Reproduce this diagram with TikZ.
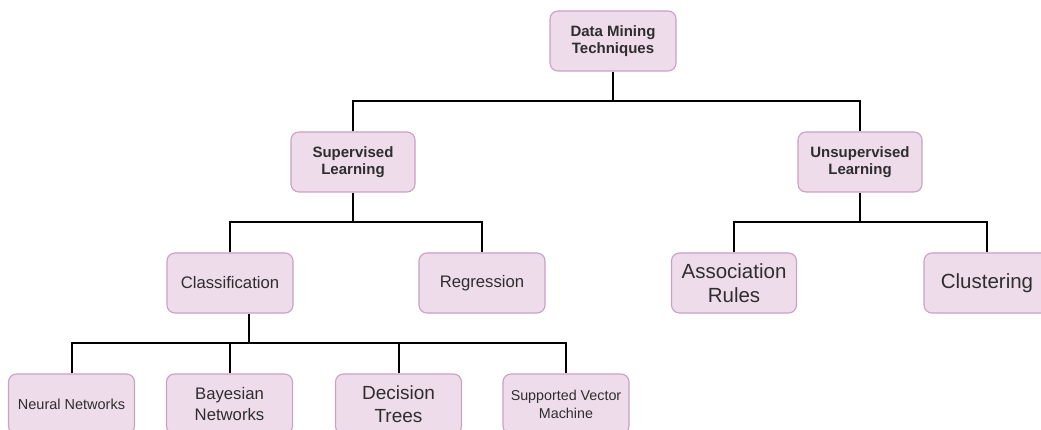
\documentclass[tikz,border=0pt]{standalone}
\usepackage{fontspec}
\setmainfont{Liberation Sans}
\definecolor{boxfill}{HTML}{EFDCEB}
\definecolor{boxline}{HTML}{C9A0C6}
\definecolor{txt}{HTML}{2E2E2E}
\tikzset{
  box/.style={draw=boxline, fill=boxfill, line width=1.1pt, rounded corners=8pt,
    minimum width=126pt, minimum height=60pt, inner sep=0pt, align=center, text=txt},
  hb/.style={font=\fontsize{15}{17.5}\selectfont\bfseries},
  big/.style={font=\fontsize{20.5}{24}\selectfont},
  mid/.style={font=\fontsize{16.7}{21}\selectfont},
  sml/.style={font=\fontsize{14.5}{17.5}\selectfont},
  link/.style={draw=black, line width=2pt}
}
\begin{document}
\begin{tikzpicture}[x=1pt,y=-1pt]
\path[use as bounding box, clip] (0,0) rectangle (1041,430);
\fill[white] (0,0) rectangle (1041,430);
\node[box,hb] (dm) at (613,41) {Data Mining\\Techniques};
\node[box,hb,minimum width=124pt] (sup) at (353,162) {Supervised\\Learning};
\node[box,hb,minimum width=124pt] (uns) at (860,162) {Unsupervised\\Learning};
\node[box,mid] (cls) at (230,283) {Classification};
\node[box,mid] (reg) at (482,283) {Regression};
\node[box,big,minimum width=125pt] (ar) at (734,283) {Association\\Rules};
\node[box,big] (clu) at (987,283) {Clustering};
\node[box,sml] (nn) at (71.5,404) {Neural Networks};
\node[box,mid] (bn) at (229.5,404) {Bayesian\\Networks};
\node[box,font=\fontsize{19}{23}\selectfont] (dt) at (398.5,404) {Decision\\Trees};
\node[box,font=\fontsize{14.3}{18}\selectfont] (svm) at (566,404) {Supported Vector\\Machine};
\coordinate (j1) at (613,101);
\coordinate (j2) at (353,222);
\coordinate (j3) at (860,222);
\coordinate (j4) at (249,343);
\draw[link] (dm.south) -- (j1);
\draw[link] (sup.north) |- (j1) -| (uns.north);
\draw[link] (sup.south) -- (j2);
\draw[link] (cls.north) |- (j2) -| (reg.north);
\draw[link] (uns.south) -- (j3);
\draw[link] (ar.north) |- (j3) -| (clu.north);
\draw[link] ([xshift=19pt]cls.south) -- (j4);
\draw[link] (nn.north) |- (j4) -| (svm.north);
\draw[link] (bn.north) -- (bn.north |- j4);
\draw[link] (dt.north) -- (dt.north |- j4);
\end{tikzpicture}
\end{document}
